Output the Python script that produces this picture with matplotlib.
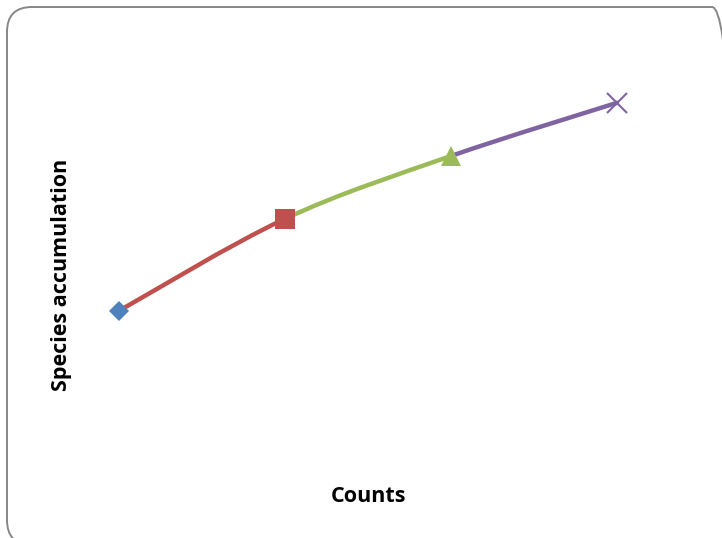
import numpy as np
import matplotlib.pyplot as plt
from matplotlib.path import Path
from matplotlib.patches import PathPatch, FancyBboxPatch

# data (no axis scale shown)
counts = [1, 2, 3, 4]
species = [34.8, 57.8, 73.5, 86.8]

seg_colors = ["#C0504D", "#9BBB59", "#8064A2"]
markers = ["D", "s", "^", "x"]
marker_colors = ["#4F81BD", "#C0504D", "#9BBB59", "#8064A2"]
marker_sizes = [10.5, 14, 15, 14]

plt.rcParams['font.family'] = ['Open Sans', 'DejaVu Sans']

fig = plt.figure(figsize=(7.22, 5.38), dpi=100)

# rounded chart border (Excel style), in inches
border = FancyBboxPatch((0.07, -0.07), 7.30, 5.38,
                        boxstyle="round,pad=0,rounding_size=0.25",
                        transform=fig.dpi_scale_trans, facecolor="none",
                        edgecolor="#878787", linewidth=1.4, zorder=-1)
fig.patches.append(border)

W, H = 722, 538
ax = fig.add_axes([36 / W, (H - 450) / H, 664 / W, 400 / H])
ax.set_xlim(0.5, 4.5)
ax.set_ylim(0, 100)
ax.axis("off")

# smoothed segments, Excel-like bezier
x = np.array(counts, dtype=float)
y = np.array(species, dtype=float)
n = len(x)
for i in range(n - 1):
    p0 = np.array([x[max(i - 1, 0)], y[max(i - 1, 0)]])
    p1 = np.array([x[i], y[i]])
    p2 = np.array([x[i + 1], y[i + 1]])
    p3 = np.array([x[min(i + 2, n - 1)], y[min(i + 2, n - 1)]])
    c1 = p1 + (p2 - p0) / 6
    c2 = p2 - (p3 - p1) / 6
    path = Path([p1, c1, c2, p2], [Path.MOVETO, Path.CURVE4, Path.CURVE4, Path.CURVE4])
    ax.add_patch(PathPatch(path, facecolor="none", edgecolor=seg_colors[i],
                           linewidth=3.2, capstyle="round", zorder=2))

for i in range(n):
    if markers[i] == "x":
        ax.plot(x[i], y[i], marker="x", color=marker_colors[i],
                markersize=marker_sizes[i], markeredgewidth=1.5, zorder=3)
    else:
        ax.plot(x[i], y[i], marker=markers[i], color=marker_colors[i],
                markersize=marker_sizes[i], markeredgewidth=0, zorder=3)

fig.text(369 / W, 1 - 496 / H, "Counts", ha="center", va="center",
         fontsize=15.5, fontweight="bold")
fig.text(61 / W, 1 - 275 / H, "Species accumulation", ha="center", va="center",
         rotation=90, fontsize=15.5, fontweight="bold")

plt.savefig("out.png", dpi=100)
